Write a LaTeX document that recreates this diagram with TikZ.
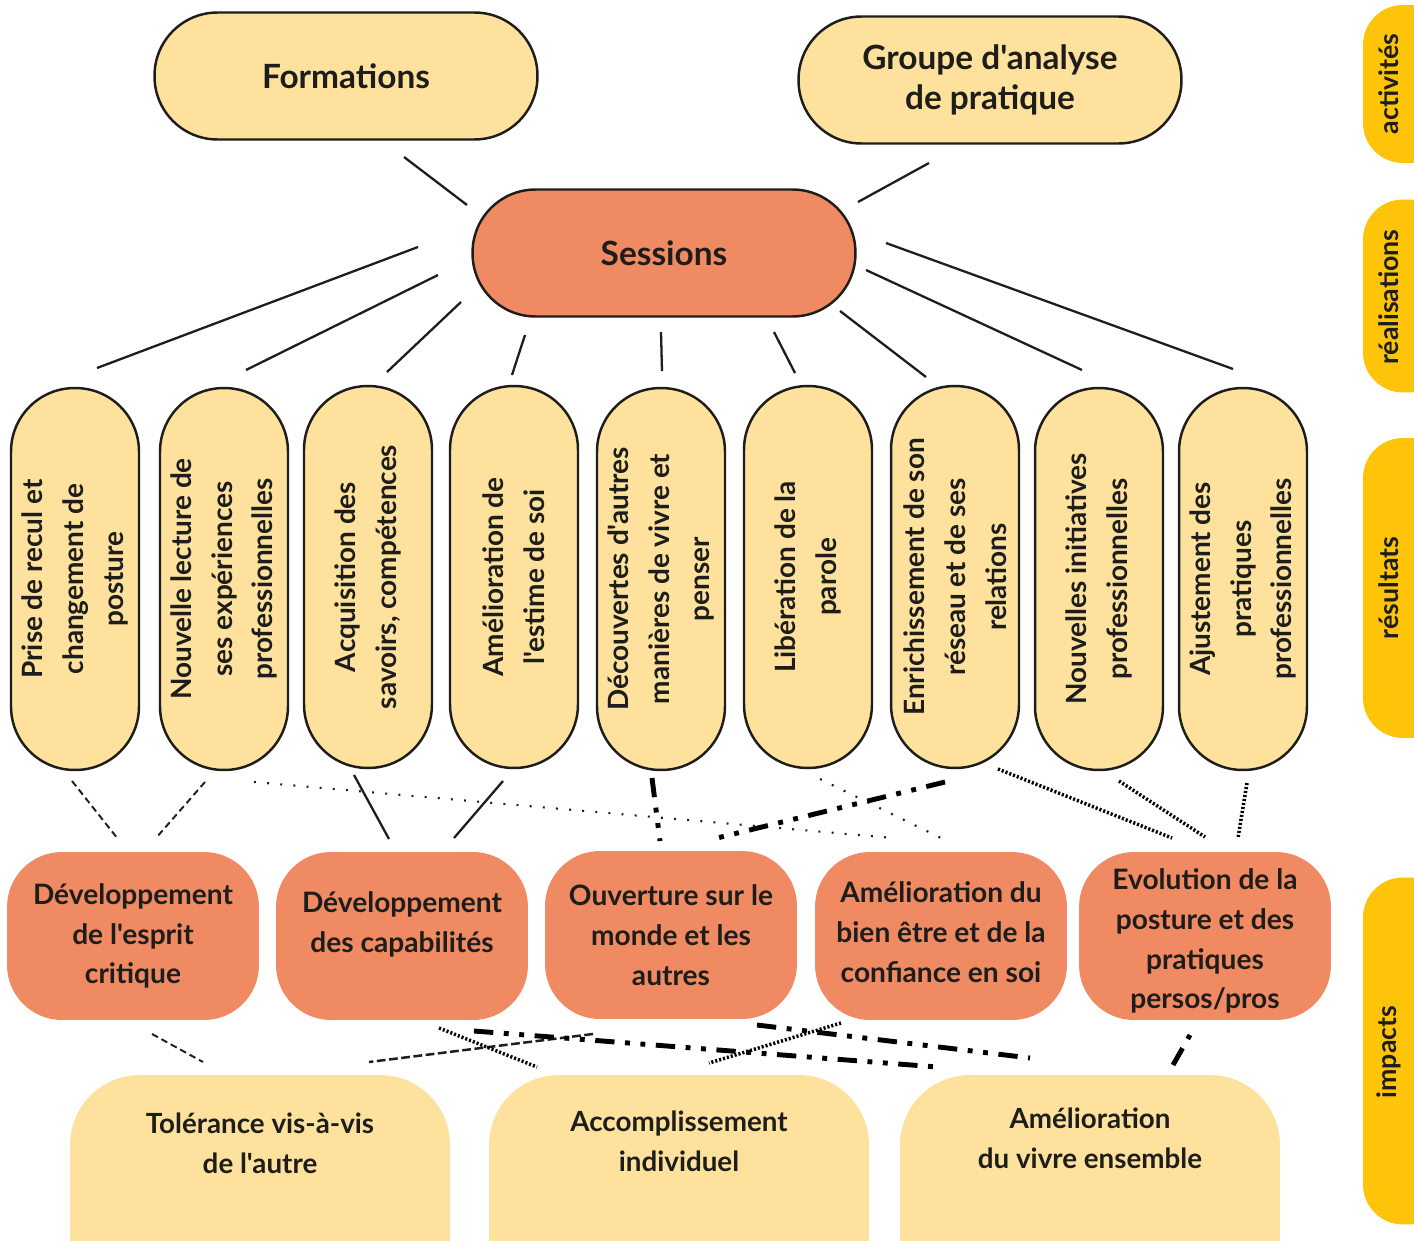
\documentclass[tikz,border=0pt]{standalone}
\usepackage{fontspec}
\setmainfont{Lato}[Ligatures=TeXOff]
\definecolor{lyel}{HTML}{FEE19C}
\definecolor{oran}{HTML}{F08A62}
\definecolor{tabyel}{HTML}{FDC40A}
\definecolor{ink}{HTML}{1D1D1B}
\begin{document}
\begin{tikzpicture}[x=0.02cm,y=-0.02cm,
  toppill/.style={draw=ink, line width=1.4pt, fill=lyel, rounded corners=1.26cm,
    minimum width=7.66cm, minimum height=2.54cm, inner sep=0pt, align=center,
    text=ink, font=\bfseries\fontsize{19}{22.7}\selectfont},
  sesspill/.style={toppill, fill=oran},
  rpill/.style={draw=ink, line width=1.4pt, fill=lyel, rotate=90, rounded corners=1.27cm,
    minimum width=7.64cm, minimum height=2.56cm, inner sep=0pt, align=center,
    text=ink, font=\bfseries\fontsize{15.9}{23.2}\selectfont},
  impbox/.style={fill=oran, rounded corners=1.1cm, minimum width=5.04cm, minimum height=3.36cm,
    inner sep=0pt, align=center, text=ink, font=\bfseries\fontsize{16}{22.7}\selectfont},
  imptext/.style={align=center, text=ink, inner sep=0pt, font=\bfseries\fontsize{16}{22.7}\selectfont},
  botbox/.style={fill=lyel, rounded corners=1.4cm, minimum width=7.6cm, minimum height=4.8cm, inner sep=0pt},
  bottext/.style={align=center, text=ink, inner sep=0pt, font=\bfseries\fontsize{15.8}{22.7}\selectfont},
  tabbox/.style={fill=tabyel, rounded corners=0.8cm, minimum width=2.04cm, inner sep=0pt},
  tabtext/.style={rotate=90, text=ink, inner sep=0pt, font=\bfseries\fontsize{15.2}{17}\selectfont},
  solidc/.style={draw=ink, line width=1.3pt},
  thindash/.style={draw=ink, line width=1.1pt, dash pattern=on 3.8pt off 2.3pt},
  meddash/.style={draw=ink, line width=1.4pt, dash pattern=on 5pt off 2pt},
  finedot/.style={draw=ink, line width=1.2pt, dash pattern=on 1.1pt off 6.4pt},
  thickdd/.style={draw=black, line width=2.8pt, dash pattern=on 11pt off 6pt on 2.8pt off 6pt on 2.8pt off 6pt},
  densedash/.style={draw=black, line width=2pt, dash pattern=on 1.2pt off 1.1pt}
]
\clip (0,0) rectangle (1414,1241);
\fill[white] (0,0) rectangle (1414,1241);

% right-hand tabs
\node[tabbox, minimum height=3.16cm] (tab1) at (1414,84) {};
\node[tabbox, minimum height=3.86cm] (tab2) at (1414,296) {};
\node[tabbox, minimum height=6.0cm] (tab3) at (1414,588) {};
\node[tabbox, minimum height=6.94cm] (tab4) at (1414,1051) {};
\node[tabtext] (tab1t) at (1389,84) {activités};
\node[tabtext] (tab2t) at (1389,297) {réalisations};
\node[tabtext] (tab3t) at (1389,588) {résultats};
\node[tabtext] (tab4t) at (1389,1052) {impacts};

% activities
\node[toppill] (form) at (346,76) {Formations};
\node[toppill] (grp) at (990,80) {Groupe d'analyse\\de pratique};
\node[sesspill] (sess) at (664,253) {Sessions};

% results
\node[rpill] (r1) at (75,579) {Prise de recul et\\changement de\\posture};
\node[rpill] (r2) at (224,579) {Nouvelle lecture de\\ses expériences\\professionnelles};
\node[rpill] (r3) at (368,577) {Acquisition des\\savoirs, compétences};
\node[rpill] (r4) at (514,577) {Amélioration de\\l'estime de soi};
\node[rpill] (r5) at (661,579) {Découvertes d'autres\\manières de vivre et\\penser};
\node[rpill] (r6) at (808,577) {Libération de la\\parole};
\node[rpill] (r7) at (955,577) {Enrichissement de son\\réseau et de ses\\relations};
\node[rpill] (r8) at (1099,579) {Nouvelles initiatives\\professionnelles};
\node[rpill] (r9) at (1243,579) {Ajustement des\\pratiques\\professionnelles};

% impacts
\node[impbox] (i1) at (133,936) {Développement\\de l'esprit\\critique};
\node[impbox] (i2) at (402,936) {};
\node[imptext] (i2t) at (402,924) {Développement\\des capabilités};
\node[impbox] (i3) at (671,935) {Ouverture sur le\\monde et les\\autres};
\node[impbox] (i4) at (941,936) {};
\node[imptext] (i4t) at (941,932) {Amélioration du\\bien être et de la\\confiance en soi};
\node[impbox] (i5) at (1205,936) {};
\node[imptext] (i5t) at (1205,941) {Evolution de la\\posture et des\\pratiques\\persos/pros};

% bottom
\node[botbox] (b1) at (260,1195) {};
\node[botbox] (b2) at (679,1195) {};
\node[botbox] (b3) at (1090,1195) {};
\node[bottext] (b1t) at (260,1143) {Tolérance vis-à-vis\\de l'autre};
\node[bottext] (b2t) at (679,1141) {Accomplissement\\individuel};
\node[bottext] (b3t) at (1090,1138) {Amélioration\\du vivre ensemble};

% activities -> sessions
\draw[solidc] ([shift={(58,81)}]form.center) -- ([shift={(-197,-48)}]sess.center);
\draw[solidc] ([shift={(-61,83)}]grp.center) -- ([shift={(194,-51)}]sess.center);

% sessions -> results
\draw[solidc] ([shift={(-246,-6)}]sess.center) -- ([shift={(22,-211)}]r1.center);
\draw[solidc] ([shift={(-226,22)}]sess.center) -- ([shift={(22,-209)}]r2.center);
\draw[solidc] ([shift={(-203,49)}]sess.center) -- ([shift={(19,-205)}]r3.center);
\draw[solidc] ([shift={(-139,82)}]sess.center) -- ([shift={(-2,-202)}]r4.center);
\draw[solidc] ([shift={(-3,79)}]sess.center) -- ([shift={(1,-208)}]r5.center);
\draw[solidc] ([shift={(110,79)}]sess.center) -- ([shift={(-13,-204)}]r6.center);
\draw[solidc] ([shift={(176,58)}]sess.center) -- ([shift={(-29,-200)}]r7.center);
\draw[solidc] ([shift={(202,17)}]sess.center) -- ([shift={(-17,-209)}]r8.center);
\draw[solidc] ([shift={(222,-10)}]sess.center) -- ([shift={(-10,-210)}]r9.center);

% results -> impacts
\draw[thindash] ([shift={(-3,202)}]r1.center) -- ([shift={(-15,-97)}]i1.center);
\draw[thindash] ([shift={(-19,203)}]r2.center) -- ([shift={(23,-98)}]i1.center);
\draw[finedot] ([shift={(30,203)}]r2.center) -- ([shift={(-48,-98)}]i4.center);
\draw[solidc] ([shift={(-14,198)}]r3.center) -- ([shift={(-13,-97)}]i2.center);
\draw[solidc] ([shift={(-11,204)}]r4.center) -- ([shift={(52,-98)}]i2.center);
\draw[thickdd] ([shift={(-9,199)}]r5.center) -- ([shift={(-11,-94)}]i3.center);
\draw[finedot] ([shift={(12,202)}]r6.center) -- ([shift={(0,-98)}]i4.center);
\draw[thickdd] ([shift={(-10,205)}]r7.center) -- ([shift={(42,-96)}]i3.center);
\draw[densedash] ([shift={(43,192)}]r7.center) -- ([shift={(-33,-98)}]i5.center);
\draw[densedash] ([shift={(20,202)}]r8.center) -- ([shift={(0,-99)}]i5.center);
\draw[densedash] ([shift={(4,204)}]r9.center) -- ([shift={(33,-98)}]i5.center);

% impacts -> bottom
\draw[thindash] ([shift={(19,98)}]i1.center) -- ([shift={(-57,-133)}]b1.center);
\draw[meddash] ([shift={(-78,99)}]i3.center) -- ([shift={(109,-133)}]b1.center);
\draw[densedash] ([shift={(37,92)}]i2.center) -- ([shift={(-142,-128)}]b2.center);
\draw[thickdd] ([shift={(72,95)}]i2.center) -- ([shift={(-153,-128)}]b3.center);
\draw[thickdd] ([shift={(86,90)}]i3.center) -- ([shift={(-60,-137)}]b3.center);
\draw[densedash] ([shift={(-100,87)}]i4.center) -- ([shift={(30,-132)}]b2.center);
\draw[thickdd] ([shift={(83,-130)}]b3.center) -- ([shift={(-15,99)}]i5.center);
\end{tikzpicture}
\end{document}
